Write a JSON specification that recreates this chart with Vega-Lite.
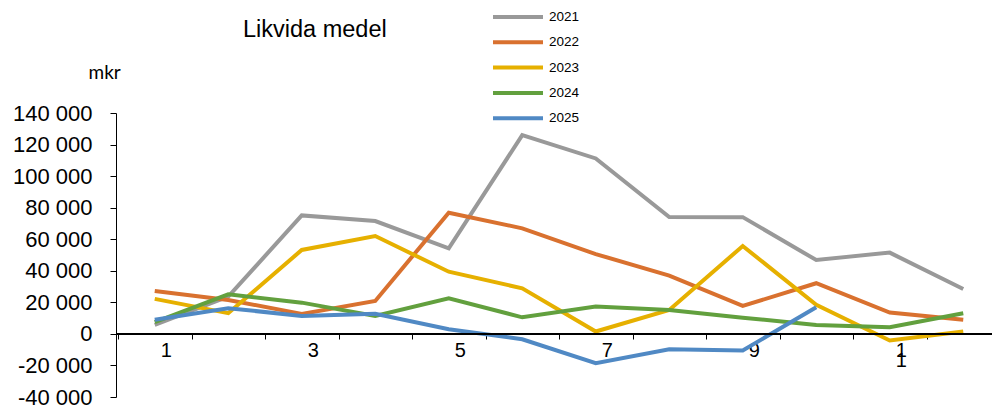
{
  "$schema": "https://vega.github.io/schema/vega-lite/v6.json",
  "width": 876,
  "height": 284,
  "autosize": {"type": "none"},
  "padding": {"left": 116, "top": 113, "right": 0, "bottom": 10},
  "background": "white",
  "config": {
    "view": {"stroke": null},
    "font": "Liberation Sans",
    "axisY": {"labelOverlap": false, "labelFontSize": 22, "labelColor": "black", "tickColor": "black", "domainColor": "black", "tickSize": 6, "labelPadding": 18, "grid": false}
  },
  "title": {"text": "Likvida medel", "anchor": "start", "frame": "group", "dx": 127, "fontSize": 23.5, "fontWeight": "normal", "font": "Liberation Sans", "color": "black", "offset": -31},
  "data": {"values": [
    {"month": 1, "year": "2021", "value": 5700},
    {"month": 2, "year": "2021", "value": 23600},
    {"month": 3, "year": "2021", "value": 75100},
    {"month": 4, "year": "2021", "value": 71500},
    {"month": 5, "year": "2021", "value": 54200},
    {"month": 6, "year": "2021", "value": 126000},
    {"month": 7, "year": "2021", "value": 111200},
    {"month": 8, "year": "2021", "value": 74100},
    {"month": 9, "year": "2021", "value": 74000},
    {"month": 10, "year": "2021", "value": 46800},
    {"month": 11, "year": "2021", "value": 51500},
    {"month": 12, "year": "2021", "value": 28500},
    {"month": 1, "year": "2022", "value": 27200},
    {"month": 2, "year": "2022", "value": 21500},
    {"month": 3, "year": "2022", "value": 12700},
    {"month": 4, "year": "2022", "value": 20900},
    {"month": 5, "year": "2022", "value": 76800},
    {"month": 6, "year": "2022", "value": 66900},
    {"month": 7, "year": "2022", "value": 50600},
    {"month": 8, "year": "2022", "value": 36900},
    {"month": 9, "year": "2022", "value": 17700},
    {"month": 10, "year": "2022", "value": 32100},
    {"month": 11, "year": "2022", "value": 13500},
    {"month": 12, "year": "2022", "value": 8900},
    {"month": 1, "year": "2023", "value": 22200},
    {"month": 2, "year": "2023", "value": 13100},
    {"month": 3, "year": "2023", "value": 53200},
    {"month": 4, "year": "2023", "value": 62000},
    {"month": 5, "year": "2023", "value": 39400},
    {"month": 6, "year": "2023", "value": 28900},
    {"month": 7, "year": "2023", "value": 1500},
    {"month": 8, "year": "2023", "value": 15200},
    {"month": 9, "year": "2023", "value": 55700},
    {"month": 10, "year": "2023", "value": 18400},
    {"month": 11, "year": "2023", "value": -4200},
    {"month": 12, "year": "2023", "value": 1500},
    {"month": 1, "year": "2024", "value": 7400},
    {"month": 2, "year": "2024", "value": 25100},
    {"month": 3, "year": "2024", "value": 19800},
    {"month": 4, "year": "2024", "value": 11400},
    {"month": 5, "year": "2024", "value": 22600},
    {"month": 6, "year": "2024", "value": 10500},
    {"month": 7, "year": "2024", "value": 17300},
    {"month": 8, "year": "2024", "value": 15200},
    {"month": 9, "year": "2024", "value": 10300},
    {"month": 10, "year": "2024", "value": 5700},
    {"month": 11, "year": "2024", "value": 4200},
    {"month": 12, "year": "2024", "value": 13100},
    {"month": 1, "year": "2025", "value": 8900},
    {"month": 2, "year": "2025", "value": 16300},
    {"month": 3, "year": "2025", "value": 11400},
    {"month": 4, "year": "2025", "value": 12700},
    {"month": 5, "year": "2025", "value": 3000},
    {"month": 6, "year": "2025", "value": -3400},
    {"month": 7, "year": "2025", "value": -18600},
    {"month": 8, "year": "2025", "value": -9700},
    {"month": 9, "year": "2025", "value": -10500},
    {"month": 10, "year": "2025", "value": 16900}
  ]},
  "encoding": {
    "y": {
      "field": "value", "type": "quantitative",
      "scale": {"domain": [-40000, 140000], "nice": false, "zero": false},
      "axis": {
        "values": [-40000, -20000, 0, 20000, 40000, 60000, 80000, 100000, 120000, 140000],
        "labelExpr": "(datum.value < 0 ? '-' : '') + replace(format(abs(datum.value), ',d'), ',', ' ')",
        "labelOverlap": false,
        "title": "mkr", "titleAngle": 0, "titleX": -28, "titleY": -41, "titleAlign": "left",
        "titleBaseline": "middle", "titleFont": "Lato", "titleFontSize": 19, "titleFontWeight": "normal", "titleColor": "black"
      }
    }
  },
  "layer": [
    {
      "mark": {"type": "line", "strokeWidth": 4},
      "encoding": {
        "x": {
          "field": "month", "type": "ordinal", "bandPosition": 0.5,
          "scale": {"type": "band", "paddingInner": 0, "paddingOuter": 0, "range": [2, 884]},
          "axis": {
            "domain": false, "tickBand": "extent", "tickColor": "black", "tickSize": 5,
            "labelExpr": "datum.value % 2 == 1 ? (datum.value == 11 ? ['1','1'] : datum.value + '') : ''",
            "labelOffset": 11, "labelFontSize": 20, "labelPadding": 1, "labelColor": "black",
            "labelAngle": 0, "labelOverlap": false, "labelLineHeight": 10, "title": null, "offset": -63, "grid": false
          }
        },
        "color": {
          "field": "year", "type": "nominal",
          "scale": {"domain": ["2021", "2022", "2023", "2024", "2025"], "range": ["#999999", "#D9712F", "#E6B000", "#62A03E", "#5089C4"]},
          "legend": {
            "orient": "none", "legendX": 395, "legendY": -103, "title": null,
            "symbolType": "M-5,0H5", "symbolSize": 100, "symbolStrokeWidth": 4,
            "labelFontSize": 13.5, "labelOffset": 24, "rowPadding": 9.3, "labelColor": "black", "labelFont": "Liberation Sans"
          }
        }
      }
    },
    {
      "mark": {"type": "rule", "color": "black", "strokeWidth": 1},
      "encoding": {"y": {"datum": 0, "type": "quantitative"}}
    }
  ]
}
